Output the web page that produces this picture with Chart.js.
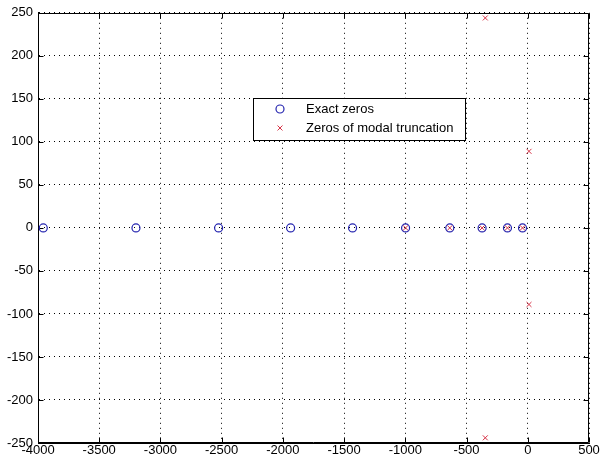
<!DOCTYPE html>
<html>
<head>
<meta charset="utf-8">
<script src="https://cdn.jsdelivr.net/npm/chart.js@4/dist/chart.umd.min.js"></script>
<style>
  html, body { margin: 0; padding: 0; background: #fff; }
  canvas { display: block; }
</style>
</head>
<body>
<canvas id="c" width="601" height="465"></canvas>
<script>
// ---- data ----
const exactLabel = 'Exact zeros';
const exactRe = [-3957, -3200, -2525, -1937, -1431, -998, -637, -373, -166, -43];
const exactIm = [0, 0, 0, 0, 0, 0, 0, 0, 0, 0];

const modalLabel = 'Zeros of modal truncation';
const modalRe = [-998, -637, -373, -166, -43, -347, -347, 10, 10];
const modalIm = [0, 0, 0, 0, 0, 244, -244, 89, -89];

const xMin = -4000, xMax = 500, xStep = 500;
const yMin = -250, yMax = 250, yStep = 50;

const FONT = 'Liberation Sans, Arial, sans-serif';

const framePlugin = {
  id: 'frame',
  beforeDatasetsDraw(chart) {
    const ctx = chart.ctx, a = chart.chartArea;
    const xs = chart.scales.x, ys = chart.scales.y;
    ctx.save();
    ctx.strokeStyle = '#000';
    ctx.lineWidth = 1;
    ctx.setLineDash([]);
    ctx.beginPath();
    const L = Math.round(a.left) + 0.5, R = Math.round(a.right) - 0.5;
    const T = Math.round(a.top) + 0.5, B = Math.round(a.bottom) - 0.5;
    ctx.rect(L, T, R - L, B - T);
    const tl = 5;
    xs.ticks.forEach(t => {
      const px = Math.round(xs.getPixelForValue(t.value)) + 0.5;
      ctx.moveTo(px, B); ctx.lineTo(px, B - tl);
      ctx.moveTo(px, T); ctx.lineTo(px, T + tl);
    });
    ys.ticks.forEach(t => {
      const py = Math.round(ys.getPixelForValue(t.value)) + 0.5;
      ctx.moveTo(L, py); ctx.lineTo(L + tl, py);
      ctx.moveTo(R, py); ctx.lineTo(R - tl, py);
    });
    ctx.stroke();
    ctx.restore();
  },
  afterDraw(chart) {
    const ctx = chart.ctx;
    const bx = 253.5, by = 98.5, bw = 212, bh = 42;
    ctx.save();
    ctx.fillStyle = '#fff';
    ctx.fillRect(bx, by, bw, bh);
    ctx.strokeStyle = '#000';
    ctx.lineWidth = 1;
    ctx.setLineDash([]);
    ctx.strokeRect(bx, by, bw, bh);
    const rows = [109, 128];
    chart.data.datasets.forEach((ds, i) => {
      const y = rows[i];
      ctx.strokeStyle = ds.borderColor;
      ctx.fillStyle = 'rgba(0,0,0,0)';
      ctx.lineWidth = ds.borderWidth;
      Chart.helpers.drawPoint(ctx, {
        pointStyle: ds.pointStyle, radius: ds.pointRadius,
        borderWidth: ds.borderWidth, rotation: 0
      }, 280, y);
      ctx.fillStyle = '#000';
      ctx.font = '13px ' + FONT;
      ctx.textBaseline = 'middle';
      ctx.textAlign = 'left';
      ctx.fillText(ds.label, 306, y);
    });
    ctx.restore();
  }
};

const bgPlugin = {
  id: 'bg',
  beforeDraw(chart) {
    const ctx = chart.ctx;
    ctx.save();
    ctx.fillStyle = '#fff';
    ctx.fillRect(0, 0, chart.width, chart.height);
    ctx.restore();
  }
};

new Chart(document.getElementById('c'), {
  type: 'scatter',
  data: {
    datasets: [
      {
        label: exactLabel,
        data: exactRe.map((x, i) => ({ x: x, y: exactIm[i] })),
        pointStyle: 'circle',
        pointRadius: 4,
        borderWidth: 1.2,
        borderColor: 'rgb(35,35,175)',
        backgroundColor: 'rgba(0,0,0,0)'
      },
      {
        label: modalLabel,
        data: modalRe.map((x, i) => ({ x: x, y: modalIm[i] })),
        pointStyle: 'crossRot',
        pointRadius: 3.5,
        borderWidth: 1,
        borderColor: 'rgb(215,50,70)',
        backgroundColor: 'rgba(0,0,0,0)'
      }
    ]
  },
  options: {
    responsive: false,
    animation: false,
    devicePixelRatio: 1,
    layout: { padding: { top: 10, right: 12, left: 0, bottom: 0 } },
    plugins: {
      legend: { display: false },
      tooltip: { enabled: false }
    },
    scales: {
      x: {
        type: 'linear',
        min: xMin, max: xMax,
        afterFit(s) { s.height = 22; },
        ticks: {
          stepSize: xStep,
          autoSkip: false,
          maxRotation: 0,
          padding: 0,
          color: '#000',
          font: { family: FONT, size: 13 },
          callback: v => String(v)
        },
        grid: { color: '#000', lineWidth: 1, drawTicks: false, tickLength: 0 },
        border: { display: true, color: '#000', width: 1, dash: [1, 4] }
      },
      y: {
        type: 'linear',
        min: yMin, max: yMax,
        afterFit(s) { s.width = 38; },
        ticks: {
          stepSize: yStep,
          autoSkip: false,
          padding: 5,
          color: '#000',
          font: { family: FONT, size: 13 },
          callback: v => String(v)
        },
        grid: { color: '#000', lineWidth: 1, drawTicks: false, tickLength: 0 },
        border: { display: true, color: '#000', width: 1, dash: [1, 4] }
      }
    }
  },
  plugins: [bgPlugin, framePlugin]
});
</script>
</body>
</html>
